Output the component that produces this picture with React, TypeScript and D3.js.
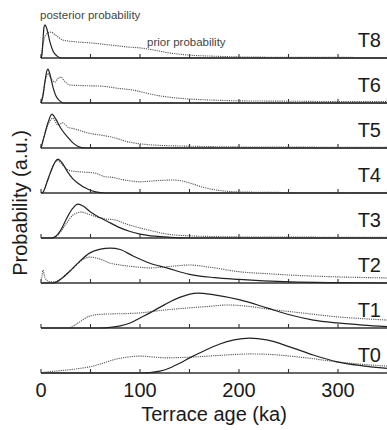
import { useEffect, useRef } from 'react';
import * as d3 from 'd3';

type Pt = [number, number];

// terrace names, top to bottom
const terraces = ['T8', 'T6', 'T5', 'T4', 'T3', 'T2', 'T1', 'T0'];

const ageTicks = [0, 50, 100, 150, 200, 250, 300, 350];
const ageLabels = [0, 100, 200, 300];

// posterior curves [age ka, relative probability]
const t8Post: Pt[] = [[0, 0], [1, 0.1], [2, 0.5], [3, 0.85], [4, 0.92], [6, 0.8], [9, 0.45], [12, 0.2], [16, 0.06], [21, 0], [350, 0]];
const t6Post: Pt[] = [[0, 0], [2, 0.2], [4, 0.6], [6, 0.9], [7, 0.94], [9, 0.8], [12, 0.45], [15, 0.2], [19, 0.06], [23, 0], [350, 0]];
const t5Post: Pt[] = [[0, 0], [3, 0.3], [7, 0.7], [11, 0.94], [15, 0.8], [20, 0.55], [27, 0.3], [32, 0.15], [37, 0.05], [45, 0], [350, 0]];
const t4Post: Pt[] = [[0, 0], [2, 0.02], [6, 0.3], [10, 0.6], [14, 0.85], [17, 0.94], [21, 0.85], [27, 0.58], [32, 0.4], [37, 0.28], [47, 0.11], [55, 0.03], [65, 0], [350, 0]];
const t3Post: Pt[] = [[0, 0], [10, 0], [15, 0.05], [20, 0.22], [26, 0.55], [32, 0.82], [37, 0.94], [43, 0.88], [50, 0.72], [60, 0.56], [70, 0.42], [80, 0.28], [90, 0.18], [100, 0.11], [115, 0.05], [130, 0.02], [150, 0], [350, 0]];
const t2Post: Pt[] = [[0, 0], [12, 0], [16, 0.03], [22, 0.15], [30, 0.35], [39, 0.6], [49, 0.83], [60, 0.94], [70, 0.97], [80, 0.93], [93, 0.75], [110, 0.55], [127, 0.42], [150, 0.24], [175, 0.15], [200, 0.1], [225, 0.06], [252, 0.03], [300, 0.01], [350, 0]];
const t1Post: Pt[] = [[0, 0], [60, 0], [70, 0.02], [80, 0.06], [90, 0.14], [100, 0.28], [110, 0.42], [125, 0.65], [140, 0.85], [158, 0.97], [175, 0.92], [201, 0.78], [228, 0.56], [252, 0.36], [275, 0.22], [299, 0.14], [325, 0.08], [350, 0.04]];
const t0Post: Pt[] = [[0, 0], [100, 0], [110, 0.01], [120, 0.05], [130, 0.14], [140, 0.27], [150, 0.42], [165, 0.62], [180, 0.8], [195, 0.92], [211, 0.97], [228, 0.92], [252, 0.72], [275, 0.5], [299, 0.31], [325, 0.2], [350, 0.13]];

// prior curves
const t8Prior: Pt[] = [[0, 0], [1, 0.2], [3, 0.5], [6, 0.68], [10, 0.72], [14, 0.65], [22, 0.5], [35, 0.45], [50, 0.42], [70, 0.36], [90, 0.3], [100, 0.28], [110, 0.24], [130, 0.14], [150, 0.08], [175, 0.05], [200, 0.03], [250, 0.02], [350, 0.015]];
const t6Prior: Pt[] = [[0, 0], [2, 0.25], [5, 0.7], [7, 0.82], [10, 0.68], [14, 0.58], [17, 0.68], [20, 0.72], [24, 0.6], [29, 0.5], [45, 0.48], [60, 0.47], [80, 0.4], [93, 0.36], [110, 0.25], [127, 0.17], [150, 0.11], [175, 0.08], [200, 0.06], [250, 0.05], [300, 0.04], [350, 0.04]];
const t5Prior: Pt[] = [[0, 0], [4, 0.4], [9, 0.75], [12, 0.83], [17, 0.64], [22, 0.7], [27, 0.58], [34, 0.53], [40, 0.48], [47, 0.42], [60, 0.36], [72, 0.3], [88, 0.17], [102, 0.11], [115, 0.08], [150, 0.05], [200, 0.03], [350, 0.02]];
const t4Prior: Pt[] = [[0, 0], [2, 0.02], [6, 0.3], [10, 0.6], [14, 0.85], [17, 0.9], [21, 0.8], [26, 0.66], [31, 0.61], [44, 0.58], [55, 0.55], [65, 0.45], [70, 0.44], [85, 0.36], [100, 0.31], [115, 0.34], [133, 0.36], [145, 0.32], [150, 0.28], [165, 0.15], [178, 0.08], [200, 0.03], [250, 0.015], [350, 0.01]];
const t3Prior: Pt[] = [[0, 0], [10, 0], [15, 0.04], [20, 0.18], [26, 0.42], [33, 0.65], [41, 0.72], [48, 0.66], [57, 0.58], [65, 0.53], [75, 0.5], [85, 0.4], [100, 0.28], [115, 0.18], [127, 0.11], [150, 0.06], [175, 0.04], [200, 0.03], [350, 0.02]];
const t2Prior: Pt[] = [[0, 0], [1, 0.2], [2, 0.36], [4, 0.15], [8, 0.04], [14, 0.03], [20, 0.12], [30, 0.35], [39, 0.58], [49, 0.72], [60, 0.66], [70, 0.55], [80, 0.5], [95, 0.45], [110, 0.42], [130, 0.46], [150, 0.5], [170, 0.44], [201, 0.31], [228, 0.26], [252, 0.22], [300, 0.17], [350, 0.14]];
const t1Prior: Pt[] = [[0, 0], [25, 0], [30, 0.02], [38, 0.15], [49, 0.33], [60, 0.38], [70, 0.39], [85, 0.4], [100, 0.42], [125, 0.5], [150, 0.56], [170, 0.6], [188, 0.64], [210, 0.6], [228, 0.53], [260, 0.43], [299, 0.31], [325, 0.26], [350, 0.22]];
const t0Prior: Pt[] = [[0, 0.01], [10, 0.04], [25, 0.08], [40, 0.13], [49, 0.17], [60, 0.25], [75, 0.38], [90, 0.45], [100, 0.47], [115, 0.44], [127, 0.42], [140, 0.43], [150, 0.44], [175, 0.48], [200, 0.52], [211, 0.53], [228, 0.52], [262, 0.44], [299, 0.31], [325, 0.24], [350, 0.19]];

const posteriors = [t8Post, t6Post, t5Post, t4Post, t3Post, t2Post, t1Post, t0Post];
const priors = [t8Prior, t6Prior, t5Prior, t4Prior, t3Prior, t2Prior, t1Prior, t0Prior];

const FONT = "'Liberation Sans', Arial, sans-serif";

const App = () => {
    const svgRef = useRef<SVGSVGElement>(null);

    useEffect(() => {
        const width = 387;
        const height = 430;
        const firstBase = 58;
        const step = 45;
        const panelH = 36;

        const svg = d3.select(svgRef.current);
        svg.selectAll('*').remove();
        svg.attr('width', width).attr('height', height);

        const x = d3.scaleLinear().domain([0, 350]).range([41, 387.5]);

        terraces.forEach((name, i) => {
            const base = firstBase + i * step;
            const y = d3.scaleLinear().domain([0, 1]).range([base, base - panelH]);
            const line = d3
                .line<Pt>()
                .x((d) => x(d[0]))
                .y((d) => y(d[1]))
                .curve(d3.curveMonotoneX);

            const g = svg.append('g');

            // baseline axis with inward ticks
            g.append('line')
                .attr('x1', x(0))
                .attr('x2', width)
                .attr('y1', base)
                .attr('y2', base)
                .attr('stroke', '#333')
                .attr('stroke-width', 1.5);

            g.selectAll('.tick')
                .data(ageTicks)
                .enter()
                .append('line')
                .attr('x1', (d) => x(d))
                .attr('x2', (d) => x(d))
                .attr('y1', base)
                .attr('y2', base - 4)
                .attr('stroke', '#333')
                .attr('stroke-width', 1.1);

            g.append('path')
                .attr('d', line(priors[i]))
                .attr('fill', 'none')
                .attr('stroke', '#555')
                .attr('stroke-width', 1.1)
                .attr('stroke-dasharray', '1.2,1');

            g.append('path')
                .attr('d', line(posteriors[i]))
                .attr('fill', 'none')
                .attr('stroke', '#222')
                .attr('stroke-width', 1.2);

            g.append('text')
                .attr('x', 381)
                .attr('y', base - 11)
                .attr('text-anchor', 'end')
                .attr('font-family', FONT)
                .attr('font-size', 20)
                .attr('fill', '#1a1a1a')
                .text(name);
        });

        const lastBase = firstBase + (terraces.length - 1) * step;

        svg.selectAll('.agelabel')
            .data(ageLabels)
            .enter()
            .append('text')
            .attr('x', (d) => x(d))
            .attr('y', lastBase + 24)
            .attr('text-anchor', 'middle')
            .attr('font-family', FONT)
            .attr('font-size', 20)
            .attr('fill', '#1a1a1a')
            .text((d) => d);

        svg.append('text')
            .attr('x', 214)
            .attr('y', 421)
            .attr('text-anchor', 'middle')
            .attr('font-family', FONT)
            .attr('font-size', 20)
            .attr('fill', '#1a1a1a')
            .text('Terrace age (ka)');

        svg.append('text')
            .attr('transform', 'translate(27,203) rotate(-90)')
            .attr('text-anchor', 'middle')
            .attr('font-family', FONT)
            .attr('font-size', 20)
            .attr('fill', '#1a1a1a')
            .text('Probability (a.u.)');

        svg.append('text')
            .attr('x', 40)
            .attr('y', 19)
            .attr('font-family', FONT)
            .attr('font-size', 11.5)
            .attr('fill', '#444')
            .text('posterior probability');

        svg.append('text')
            .attr('x', 147)
            .attr('y', 46)
            .attr('font-family', FONT)
            .attr('font-size', 11.5)
            .attr('fill', '#444')
            .text('prior probability');
    }, []);

    return (
        <svg
            ref={svgRef}
            style={{ position: 'absolute', left: 0, top: 0, background: '#fff' }}
        />
    );
};

export default App;
